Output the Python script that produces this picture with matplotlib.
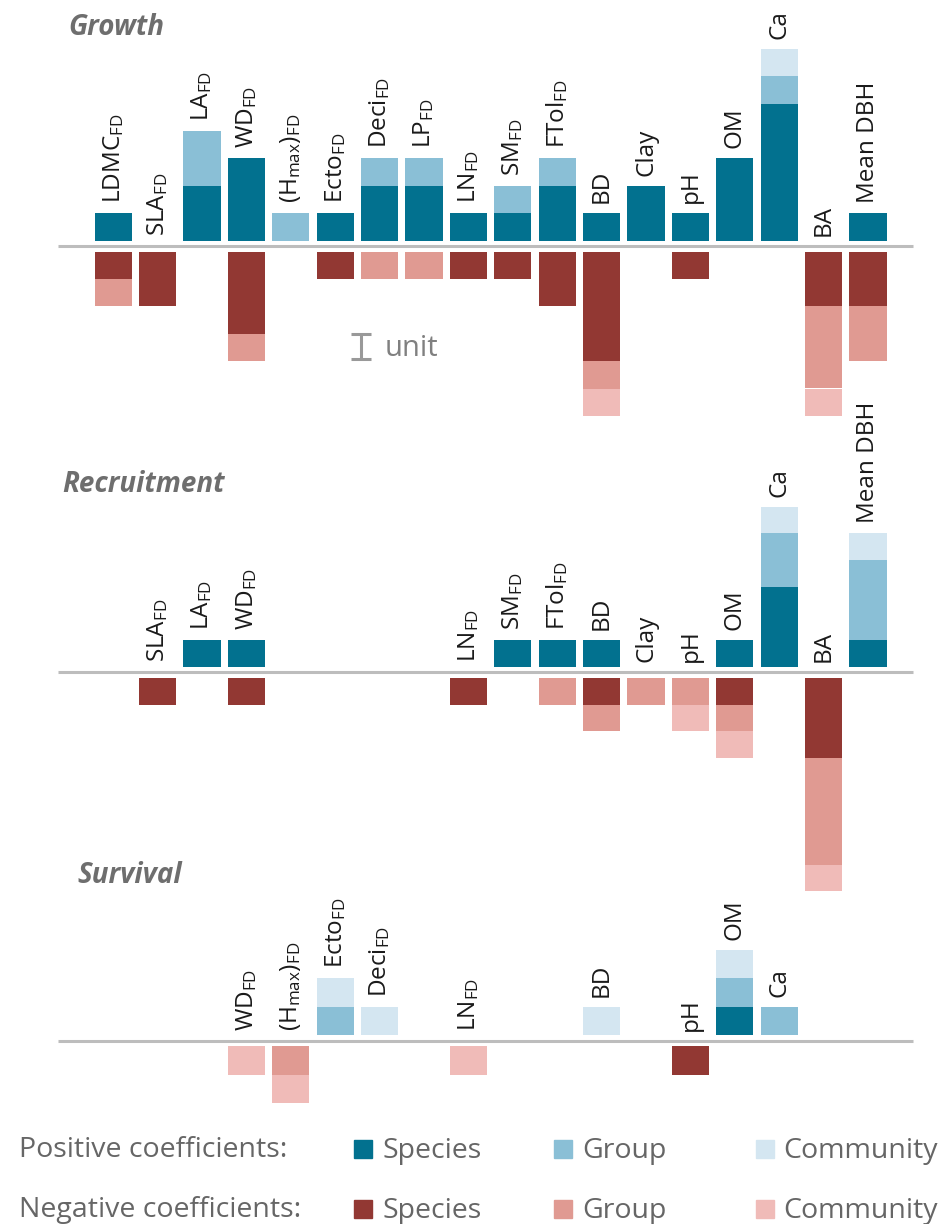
import numpy as np
import matplotlib
matplotlib.use("Agg")
import matplotlib.pyplot as plt
from matplotlib.patches import Rectangle

plt.rcParams['font.family'] = ['Open Sans', 'DejaVu Sans']
plt.rcParams['mathtext.fontset'] = 'custom'
plt.rcParams['mathtext.rm'] = 'Open Sans'
plt.rcParams['mathtext.it'] = 'Open Sans:italic'

# column labels
labels = [r'LDMC$_{\mathrm{FD}}$', r'SLA$_{\mathrm{FD}}$', r'LA$_{\mathrm{FD}}$', r'WD$_{\mathrm{FD}}$',
          r'(H$_{\mathrm{max}}$)$_{\mathrm{FD}}$', r'Ecto$_{\mathrm{FD}}$', r'Deci$_{\mathrm{FD}}$',
          r'LP$_{\mathrm{FD}}$', r'LN$_{\mathrm{FD}}$', r'SM$_{\mathrm{FD}}$', r'FTol$_{\mathrm{FD}}$',
          'BD', 'Clay', 'pH', 'OM', 'Ca', 'BA', 'Mean DBH']

# Growth (units of coefficient size)
growth_pos_sp = [1, 0, 2, 3, 0, 1, 2, 2, 1, 1, 2, 1, 2, 1, 3, 5, 0, 1]
growth_pos_gr = [0, 0, 2, 0, 1, 0, 1, 1, 0, 1, 1, 0, 0, 0, 0, 1, 0, 0]
growth_pos_cm = [0, 0, 0, 0, 0, 0, 0, 0, 0, 0, 0, 0, 0, 0, 0, 1, 0, 0]
growth_neg_sp = [1, 2, 0, 3, 0, 1, 0, 0, 1, 1, 2, 4, 0, 1, 0, 0, 2, 2]
growth_neg_gr = [1, 0, 0, 1, 0, 0, 1, 1, 0, 0, 0, 1, 0, 0, 0, 0, 3, 2]
growth_neg_cm = [0, 0, 0, 0, 0, 0, 0, 0, 0, 0, 0, 1, 0, 0, 0, 0, 1, 0]

# Recruitment
recr_pos_sp = [0, 0, 1, 1, 0, 0, 0, 0, 0, 1, 1, 1, 0, 0, 1, 3, 0, 1]
recr_pos_gr = [0, 0, 0, 0, 0, 0, 0, 0, 0, 0, 0, 0, 0, 0, 0, 2, 0, 3]
recr_pos_cm = [0, 0, 0, 0, 0, 0, 0, 0, 0, 0, 0, 0, 0, 0, 0, 1, 0, 1]
recr_neg_sp = [0, 1, 0, 1, 0, 0, 0, 0, 1, 0, 0, 1, 0, 0, 1, 0, 3, 0]
recr_neg_gr = [0, 0, 0, 0, 0, 0, 0, 0, 0, 0, 1, 1, 1, 1, 1, 0, 4, 0]
recr_neg_cm = [0, 0, 0, 0, 0, 0, 0, 0, 0, 0, 0, 0, 0, 1, 1, 0, 1, 0]

# Survival
surv_pos_sp = [0, 0, 0, 0, 0, 0, 0, 0, 0, 0, 0, 0, 0, 0, 1, 0, 0, 0]
surv_pos_gr = [0, 0, 0, 0, 0, 1, 0, 0, 0, 0, 0, 0, 0, 0, 1, 1, 0, 0]
surv_pos_cm = [0, 0, 0, 0, 0, 1, 1, 0, 0, 0, 0, 1, 0, 0, 1, 0, 0, 0]
surv_neg_sp = [0, 0, 0, 0, 0, 0, 0, 0, 0, 0, 0, 0, 0, 1, 0, 0, 0, 0]
surv_neg_gr = [0, 0, 0, 0, 1, 0, 0, 0, 0, 0, 0, 0, 0, 0, 0, 0, 0, 0]
surv_neg_cm = [0, 0, 0, 1, 1, 0, 0, 0, 1, 0, 0, 0, 0, 0, 0, 0, 0, 0]

pos_colors = ['#02718F', '#8ABFD6', '#D4E6F1']
neg_colors = ['#923833', '#E09A92', '#F0BBB8']
legend_names = ['Species', 'Group', 'Community']

W, H = 941, 1224
X0, S = 113.2, 44.4   # px of first column, px spacing
GAP_PX = 5.5

fig = plt.figure(figsize=(W / 100, H / 100), dpi=100)


def panel(top_px, bot_px, base_px, unit_px, title, title_x, title_base, pos, neg):
    ax = fig.add_axes([0, 1 - bot_px / H, 1, (bot_px - top_px) / H])
    ax.set_xlim(-X0 / S, (W - X0) / S)
    ax.set_ylim(-(bot_px - base_px) / unit_px, (base_px - top_px) / unit_px)
    ax.axis('off')
    gap = GAP_PX / unit_px
    x = np.arange(len(labels))
    bottom = np.full(len(labels), gap)
    for vals, c in zip(pos, pos_colors):
        v = np.array(vals, float)
        ax.bar(x, v, 0.835, bottom=bottom, color=c, edgecolor='none')
        bottom = bottom + v
    nb = np.full(len(labels), -gap)
    for vals, c in zip(neg, neg_colors):
        v = np.array(vals, float)
        ax.bar(x, -v, 0.835, bottom=nb, color=c, edgecolor='none')
        nb = nb - v
    ax.plot([-1.24, 18.01], [0, 0], color='#BDBDBD', lw=2.2, solid_capstyle='butt')
    total_pos = np.sum(pos, axis=0)
    total_neg = np.sum(neg, axis=0)
    for i, lab in enumerate(labels):
        if total_pos[i] + total_neg[i] == 0:
            continue
        y = (gap + total_pos[i] if total_pos[i] > 0 else 0) + 10.0 / unit_px
        ax.text(i, y, lab, rotation=90, ha='center', va='bottom',
                fontsize=17.5, color='#1a1a1a')
    fig.text(title_x / W, 1 - title_base / H, title, fontsize=20, fontweight='bold',
             fontstyle='italic', color='#6E6E6E', va='baseline', ha='left')
    return ax


ax1 = panel(0, 430, 246, 27.4, 'Growth', 68, 35,
            [growth_pos_sp, growth_pos_gr, growth_pos_cm],
            [growth_neg_sp, growth_neg_gr, growth_neg_cm])
panel(430, 920, 672.3, 26.7, 'Recruitment', 62, 491.5,
      [recr_pos_sp, recr_pos_gr, recr_pos_cm],
      [recr_neg_sp, recr_neg_gr, recr_neg_cm])
panel(850, 1125, 1040.8, 28.5, 'Survival', 77, 883,
      [surv_pos_sp, surv_pos_gr, surv_pos_cm],
      [surv_neg_sp, surv_neg_gr, surv_neg_cm])

# unit scale marker
ax1.errorbar([5.57], [-3.67], yerr=[0.47], color='#999999', capsize=7, capthick=2.2,
             elinewidth=2.2, fmt='none')
ax1.text(6.12, -4.0, 'unit', fontsize=21, color='#808080', va='baseline', ha='left')

# legend
rows = [('Positive coefficients:', pos_colors, 1157, 1140),
        ('Negative coefficients:', neg_colors, 1217, 1200)]
for head, cols, base, sq_top in rows:
    fig.text(19 / W, 1 - base / H, head, fontsize=20.5, color='#666666', va='baseline')
    for sx, tx, c, name in zip([354, 554, 756], [382, 582, 783], cols, legend_names):
        fig.add_artist(Rectangle((sx / W, 1 - (sq_top + 18) / H), 18 / W, 18 / H,
                                 transform=fig.transFigure, color=c))
        fig.text(tx / W, 1 - (base + 1) / H, name, fontsize=20.5, color='#666666',
                 va='baseline')

fig.savefig('out.png', dpi=100)
